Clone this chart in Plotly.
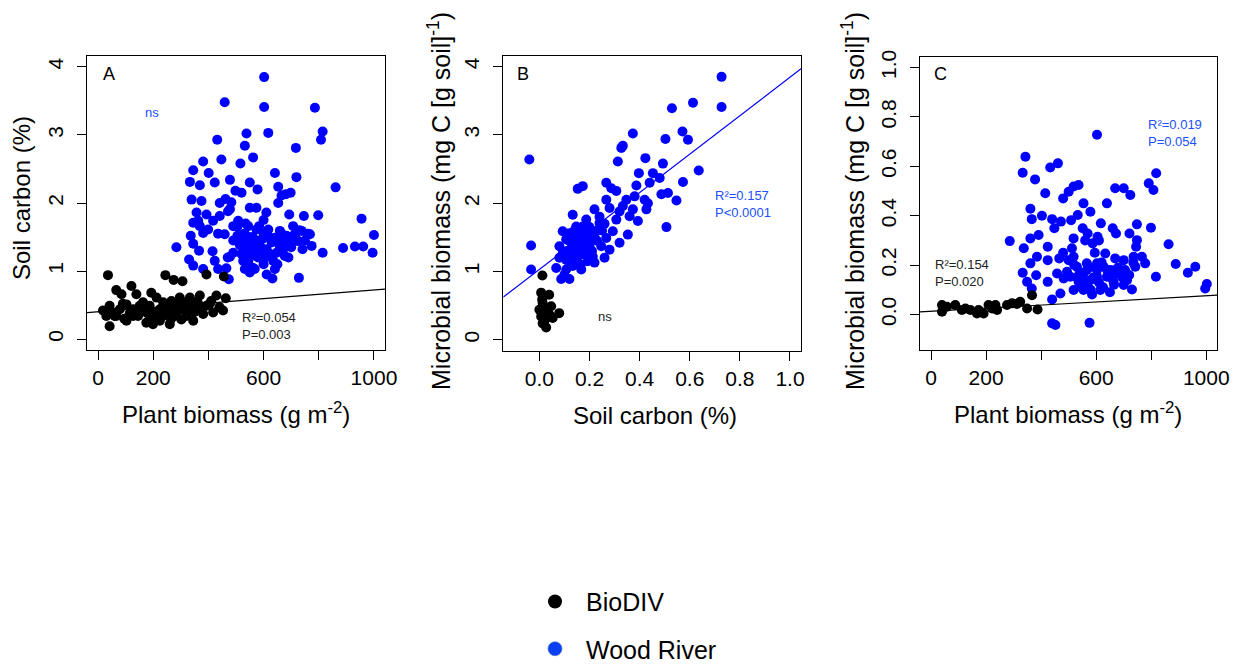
import plotly.graph_objects as go

FONT = "Liberation Sans, Arial, sans-serif"
BLUE = "#0000FF"
TXT_BLUE = "#2050ff"

# ---------------- Panel A: Soil carbon vs plant biomass ----------------
a_blue_x = [602, 459, 602, 786, 814, 808, 617, 538, 432, 532, 717, 447, 381, 562, 516, 345, 401, 641,
            333, 369, 423, 478, 550, 578, 719, 653, 861, 698, 498, 520, 665, 339, 375, 441, 462, 483,
            550, 574, 653, 681, 610, 693, 746, 798, 955, 357, 393, 441, 478, 508, 345, 369, 399, 381,
            435, 459, 544, 574, 617, 659, 707, 738, 768, 1000, 336, 345, 284, 366, 415, 505, 526, 514,
            556, 596, 584, 629, 671, 693, 725, 741, 774, 814, 888, 931, 961, 995, 330, 345, 381, 423,
            435, 465, 478, 526, 532, 550, 568, 605, 635, 641, 677, 611, 632, 728, 474, 562, 544, 574,
            596, 647, 659, 532, 562, 611, 623, 671, 707, 683, 641, 538, 490, 584, 490, 417, 363, 471,
            510, 530, 545, 560, 575, 590, 600, 620, 640, 655, 665, 680, 700, 715, 730, 750, 760, 520,
            545, 580, 600, 620, 650, 690, 560, 470, 490, 505, 535, 600]
a_blue_y = [3.85, 3.48, 3.41, 3.40, 3.05, 2.93, 3.03, 3.02, 2.93, 2.84, 2.81, 2.64, 2.61, 2.67, 2.58,
            2.48, 2.44, 2.44, 2.31, 2.26, 2.30, 2.34, 2.30, 2.20, 2.38, 2.24, 2.23, 2.15, 2.18, 2.15,
            2.11, 2.05, 2.03, 2.00, 2.06, 2.01, 1.93, 1.93, 2.00, 2.13, 1.86, 1.83, 1.81, 1.82, 1.77,
            1.86, 1.83, 1.81, 1.91, 1.74, 1.71, 1.66, 1.61, 1.56, 1.55, 1.54, 1.66, 1.61, 1.61, 1.59,
            1.66, 1.59, 1.54, 1.53, 1.52, 1.40, 1.35, 1.30, 1.29, 1.52, 1.44, 1.38, 1.42, 1.47, 1.34,
            1.42, 1.47, 1.39, 1.44, 1.32, 1.37, 1.27, 1.34, 1.36, 1.36, 1.27, 1.17, 1.08, 1.03, 1.15,
            1.03, 1.04, 1.21, 1.15, 1.03, 0.98, 1.03, 1.20, 1.15, 1.03, 1.22, 0.95, 0.89, 0.90, 0.88,
            1.27, 1.27, 1.22, 1.27, 1.27, 1.37, 1.32, 1.37, 1.32, 1.25, 1.32, 1.52, 1.52, 1.49, 1.52,
            1.27, 1.66, 1.66, 1.74, 1.74, 1.88,
            1.45, 1.55, 1.35, 1.50, 1.45, 1.35, 1.55, 1.50, 1.45, 1.40, 1.55, 1.45, 1.35, 1.50, 1.60,
            1.45, 1.55, 1.25, 1.15, 1.20, 1.10, 1.25, 1.10, 1.20, 1.05, 1.20, 1.45, 1.65, 1.70, 1.75]
a_black_x = [36, 244, 274, 306, 393, 456, 66, 85, 121, 139, 193, 212, 236, 266, 296, 333, 369, 429, 463,
             18, 42, 60, 42, 103, 79, 127, 151, 175, 199, 199, 224, 248, 260, 278, 296, 320, 345, 381,
             417, 453, 369, 320, 163, 103, 187, 224, 272, 66, 212, 236, 302, 127, 393, 357, 30, 175,
             284, 248, 314, 345, 145, 50, 90, 115, 160, 205, 255, 290, 330, 360, 405, 440, 95, 185,
             230, 265, 310, 350, 410]
a_black_y = [0.94, 0.94, 0.87, 0.85, 0.95, 0.92, 0.72, 0.66, 0.78, 0.66, 0.68, 0.61, 0.54, 0.56, 0.61,
             0.61, 0.64, 0.64, 0.60, 0.42, 0.49, 0.34, 0.19, 0.27, 0.44, 0.44, 0.49, 0.39, 0.34, 0.22,
             0.27, 0.39, 0.22, 0.34, 0.44, 0.34, 0.49, 0.37, 0.39, 0.42, 0.49, 0.54, 0.54, 0.51, 0.49,
             0.44, 0.46, 0.34, 0.32, 0.34, 0.29, 0.34, 0.49, 0.42, 0.34, 0.24, 0.39, 0.49, 0.42, 0.27,
             0.34, 0.40, 0.52, 0.38, 0.45, 0.40, 0.47, 0.52, 0.45, 0.55, 0.52, 0.47, 0.30, 0.28, 0.45,
             0.30, 0.50, 0.40, 0.56]
a_fit = (0.403, 0.000318)   # intercept, slope (BioDIV)

# ---------------- Panel B: Microbial biomass vs soil carbon ----------------
b_blue_x = [0.727, 0.727, 0.613, 0.529, 0.571, 0.593, 0.503, 0.373, 0.333, 0.327, 0.313, 0.423, 0.397,
            0.453, 0.493, 0.636, 0.573, -0.04, 0.153, 0.173, 0.267, 0.287, 0.307, 0.387, 0.440, 0.480,
            0.487, 0.513, 0.547, 0.507, 0.267, 0.347, 0.380, 0.420, 0.433, 0.333, 0.373, 0.427, 0.320,
            0.280, 0.220, 0.393, 0.360, 0.307, 0.353, 0.133, 0.187, 0.240, 0.293, 0.267, 0.320, 0.280,
            0.213, 0.227, 0.187, 0.147, 0.173, 0.120, 0.093, 0.107, 0.147, 0.173, 0.200, 0.160, 0.127,
            0.093, 0.120, 0.147, 0.180, 0.213, 0.220, 0.167, 0.133, 0.107, 0.080, 0.067, 0.087, 0.120,
            -0.033, -0.033, 0.247, 0.260, 0.080, 0.133, 0.187, 0.153, 0.193, 0.107, 0.140, 0.160, 0.175,
            0.200, 0.150, 0.125, 0.165, 0.190, 0.230, 0.250,
            0.12, 0.14, 0.16, 0.18, 0.20, 0.17, 0.15, 0.22, 0.24, 0.26, 0.11, 0.13, 0.19, 0.21, 0.10]
b_blue_y = [3.85, 3.41, 3.47, 3.39, 3.05, 2.93, 2.94, 3.02, 2.84, 2.81, 2.61, 2.66, 2.44, 2.44, 2.58,
            2.48, 2.31, 2.64, 2.21, 2.25, 2.30, 2.22, 2.18, 2.26, 2.30, 2.37, 2.13, 2.15, 2.04, 1.65,
            2.05, 2.05, 2.10, 2.05, 2.00, 1.96, 1.91, 1.91, 1.88, 1.93, 1.91, 1.74, 1.81, 1.76, 1.54,
            1.83, 1.76, 1.71, 1.59, 1.49, 1.42, 1.32, 1.47, 1.59, 1.59, 1.66, 1.66, 1.56, 1.59, 1.47,
            1.47, 1.42, 1.37, 1.32, 1.34, 1.27, 1.22, 1.20, 1.27, 1.22, 1.13, 1.03, 1.08, 1.03, 1.20,
            1.05, 0.89, 0.89, 1.38, 1.03, 1.37, 1.20, 1.37, 1.37, 1.47, 1.52, 1.15, 1.17, 1.45, 1.55,
            1.40, 1.55, 1.25, 1.50, 1.10, 1.30, 1.45, 1.60,
            1.45, 1.60, 1.35, 1.55, 1.65, 1.25, 1.15, 1.50, 1.80, 1.70, 1.30, 1.10, 1.40, 1.30, 0.95]
b_black_x = [0.012, 0.007, 0.039, 0.013, 0.000, 0.027, 0.079, 0.007, 0.053, 0.040, 0.013, 0.027, 0.020,
             0.047, 0.011]
b_black_y = [0.94, 0.69, 0.66, 0.54, 0.44, 0.42, 0.39, 0.34, 0.32, 0.37, 0.24, 0.18, 0.27, 0.49, 0.59]
b_fit = (1.03, 2.815)       # intercept, slope (Wood River)

# ---------------- Panel C: Microbial biomass vs plant biomass ----------------
c_blue_x = [603, 343, 333, 378, 433, 461, 415, 361, 366, 403, 440, 480, 500, 518, 536, 554, 579, 639,
            669, 700, 724, 791, 818, 808, 748, 799, 863, 889, 933, 960, 1002, 996, 817, 286, 337, 361,
            391, 424, 448, 472, 509, 533, 551, 518, 569, 587, 605, 617, 660, 672, 721, 748, 745, 766,
            778, 736, 700, 669, 633, 603, 566, 518, 512, 466, 424, 385, 361, 333, 349, 366, 382, 424,
            440, 470, 458, 482, 506, 530, 554, 579, 603, 627, 639, 663, 688, 712, 730, 742, 700, 676,
            651, 536, 518, 554, 585, 615, 440, 452, 576, 494, 566, 603, 669,
            520, 540, 560, 575, 590, 610, 620, 640, 655, 665, 680, 695, 705, 720, 735, 545, 580, 625,
            650, 530, 500, 480, 595, 610, 560]
c_blue_y = [0.728, 0.639, 0.574, 0.547, 0.595, 0.612, 0.491, 0.428, 0.386, 0.400, 0.386, 0.470, 0.497,
            0.518, 0.524, 0.450, 0.416, 0.450, 0.511, 0.511, 0.484, 0.531, 0.572, 0.504, 0.365, 0.351,
            0.284, 0.204, 0.169, 0.193, 0.123, 0.105, 0.153, 0.297, 0.268, 0.308, 0.322, 0.274, 0.349,
            0.376, 0.382, 0.403, 0.349, 0.308, 0.328, 0.288, 0.315, 0.369, 0.349, 0.328, 0.328, 0.301,
            0.274, 0.234, 0.207, 0.234, 0.220, 0.227, 0.247, 0.207, 0.207, 0.234, 0.268, 0.227, 0.220,
            0.234, 0.207, 0.169, 0.132, 0.105, 0.159, 0.132, 0.061, 0.085, 0.166, 0.146, 0.153, 0.193,
            0.166, 0.139, 0.153, 0.193, 0.153, 0.132, 0.166, 0.139, 0.101, 0.193, 0.119, 0.166, 0.180,
            0.132, 0.099, 0.099, 0.081, 0.099, -0.036, -0.043, -0.034, 0.173, 0.180, 0.180, 0.180,
            0.20, 0.17, 0.13, 0.19, 0.15, 0.13, 0.21, 0.18, 0.15, 0.12, 0.19, 0.15, 0.18, 0.16, 0.21,
            0.11, 0.10, 0.11, 0.09, 0.15, 0.22, 0.25, 0.25, 0.30, 0.30]
c_black_x = [40, 40, 88, 112, 143, 173, 191, 209, 240, 234, 276, 294, 324, 349, 367, 387, 58, 125, 167,
             222, 312]
c_black_y = [0.038, 0.011, 0.038, 0.018, 0.018, 0.018, 0.004, 0.038, 0.018, 0.038, 0.038, 0.045, 0.051,
             0.024, 0.078, 0.020, 0.031, 0.024, 0.004, 0.024, 0.042]
c_fit = (0.013, 0.0000625)  # intercept, slope (BioDIV)

# ---------------- axes / ticks ----------------
A_X, A_Y = [-40, 1040], [-0.16, 4.16]
B_X, B_Y = [-0.144, 1.044], [-0.16, 4.16]
C_X, C_Y = [-40, 1040], [-0.144, 1.044]
biomass_ticks = [0, 200, 600, 1000]          # labelled
biomass_minor = [400, 800]                   # unlabelled tick marks
carbon_ticks = [0, 1, 2, 3, 4]
frac_ticks = [0.0, 0.2, 0.4, 0.6, 0.8, 1.0]
frac_text = ["0.0", "0.2", "0.4", "0.6", "0.8", "1.0"]

# The page body adds an 8 px offset; the figure is sized so it ends at the window edge.
OFF = 8
W, H = 1242 - OFF, 664 - OFF


def fx(p):
    return (p - OFF) / W


def fy(p):
    return 1 - (p - OFF) / H


fig = go.Figure()

panels = [
    ("x", "y", a_blue_x, a_blue_y, a_black_x, a_black_y, a_fit, A_X, "black"),
    ("x2", "y2", b_blue_x, b_blue_y, b_black_x, b_black_y, b_fit, B_X, BLUE),
    ("x3", "y3", c_blue_x, c_blue_y, c_black_x, c_black_y, c_fit, C_X, "black"),
]
for xa, ya, bx, by, kx, ky, fit, xr, lc in panels:
    fig.add_trace(go.Scatter(x=bx, y=by, xaxis=xa, yaxis=ya, mode="markers", showlegend=False,
                             marker=dict(size=10, color=BLUE, line=dict(width=0)), hoverinfo="skip"))
    fig.add_trace(go.Scatter(x=kx, y=ky, xaxis=xa, yaxis=ya, mode="markers", showlegend=False,
                             marker=dict(size=10, color="black", line=dict(width=0)), hoverinfo="skip"))
    lx = [xr[0], xr[1]]
    ly = [fit[0] + fit[1] * v for v in lx]
    fig.add_trace(go.Scatter(x=lx, y=ly, xaxis=xa, yaxis=ya, mode="lines", showlegend=False,
                             line=dict(color=lc, width=1.2), hoverinfo="skip"))

# legend-only entries
fig.add_trace(go.Scatter(x=[None], y=[None], mode="markers", name="BioDIV", legend="legend",
                         marker=dict(size=14, color="black")))
fig.add_trace(go.Scatter(x=[None], y=[None], mode="markers", name="Wood River", legend="legend2",
                         marker=dict(size=14, color="#0a3ff2", line=dict(width=0.6, color="#5070c0"))))

axis_common = dict(showgrid=False, zeroline=False, showline=True, mirror=True, linecolor="black",
                   linewidth=1, ticks="outside", ticklen=9, tickwidth=1, tickcolor="black",
                   tickfont=dict(size=21, color="black", family=FONT))
minor_ticks = dict(tickvals=biomass_minor, ticks="outside", ticklen=9, tickwidth=1, tickcolor="black",
                   showgrid=False)
XSO, YSO = 0, 6

fig.update_layout(
    width=W, height=H, margin=dict(l=0, r=0, t=0, b=0, autoexpand=False),
    paper_bgcolor="white", plot_bgcolor="white",
    font=dict(family=FONT, color="black"),
    xaxis=dict(domain=[fx(87), fx(385)], range=A_X, anchor="y", tickvals=biomass_ticks,
               minor=minor_ticks, ticklabelstandoff=XSO, **axis_common),
    yaxis=dict(domain=[fy(350), fy(56)], range=A_Y, anchor="x", tickvals=carbon_ticks,
               tickangle=-90, ticklabelstandoff=YSO, **axis_common),
    xaxis2=dict(domain=[fx(503.3), fx(801)], range=B_X, anchor="y2",
                tickvals=frac_ticks, ticktext=frac_text, ticklabelstandoff=XSO, **axis_common),
    yaxis2=dict(domain=[fy(350.7), fy(55.7)], range=B_Y, anchor="x2", tickvals=carbon_ticks,
                tickangle=-90, ticklabelstandoff=YSO, **axis_common),
    xaxis3=dict(domain=[fx(920), fx(1217.3)], range=C_X, anchor="y3", tickvals=biomass_ticks,
                minor=minor_ticks, ticklabelstandoff=XSO, **axis_common),
    yaxis3=dict(domain=[fy(350), fy(56.7)], range=C_Y, anchor="x3",
                tickvals=frac_ticks, ticktext=frac_text,
                tickangle=-90, ticklabelstandoff=YSO, **axis_common),
    legend=dict(x=fx(524), y=fy(601.7), xanchor="left", yanchor="middle", itemwidth=52,
                font=dict(size=25, family=FONT, color="black"), bgcolor="rgba(0,0,0,0)", borderwidth=0),
    legend2=dict(x=fx(524), y=fy(649), xanchor="left", yanchor="middle", itemwidth=52,
                 font=dict(size=25, family=FONT, color="black"), bgcolor="rgba(0,0,0,0)", borderwidth=0),
)


def ann(x, y, text, size, color="black", xanchor="left", angle=0, yanchor="middle"):
    fig.add_annotation(x=fx(x), y=fy(y), xref="paper", yref="paper", text=text, showarrow=False,
                       xanchor=xanchor, yanchor=yanchor, textangle=angle, align="left",
                       font=dict(size=size, color=color, family=FONT))


# axis titles
ann(236, 413, "Plant biomass (g m<sup>-2</sup>)", 24, xanchor="center")
ann(655, 415, "Soil carbon (%)", 24, xanchor="center")
ann(1068, 413, "Plant biomass (g m<sup>-2</sup>)", 24, xanchor="center")
ann(22, 198, "Soil carbon (%)", 24, xanchor="center", angle=-90)
ann(439, 201, "Microbial biomass (mg C [g soil]<sup>-1</sup>)", 25, xanchor="center", angle=-90)
ann(853, 201, "Microbial biomass (mg C [g soil]<sup>-1</sup>)", 25, xanchor="center", angle=-90)

# panel letters
ann(101, 74, "A", 18)
ann(515, 74, "B", 18)
ann(932, 74, "C", 18)

# statistics
ann(151.5, 112.5, "ns", 13, color=TXT_BLUE, xanchor="center")
ann(240, 325.5, "R²=0.054<br>P=0.003", 13, color="#222222")
ann(713, 203.5, "R²=0.157<br>P<0.0001", 13, color=TXT_BLUE)
ann(605, 316.5, "ns", 13, color="#222222", xanchor="center")
ann(1145.5, 133.5, "R²=0.019<br>P=0.054", 13, color=TXT_BLUE)
ann(932.5, 272.5, "R²=0.154<br>P=0.020", 13, color="#222222")

fig.write_html("out.html")
